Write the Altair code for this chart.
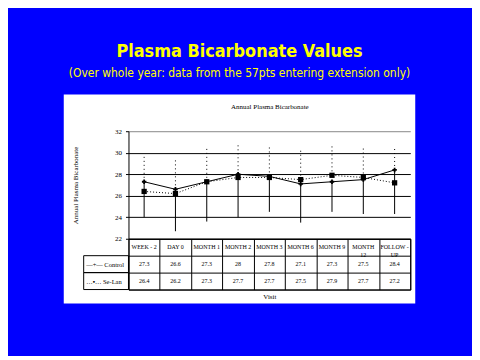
import altair as alt
import pandas as pd

cats = ["WEEK-2", "DAY0", "MONTH1", "MONTH2", "MONTH3", "MONTH6", "MONTH9", "MONTH12", "FOLLOW-UP"]
header = ["WEEK - 2", "DAY 0", "MONTH 1", "MONTH 2", "MONTH 3", "MONTH 6", "MONTH 9", "MONTH\n12", "FOLLOW -\nUP"]
control = [27.3, 26.6, 27.3, 28.0, 27.8, 27.1, 27.3, 27.5, 28.4]
selam = [26.4, 26.2, 27.3, 27.7, 27.7, 27.5, 27.9, 27.7, 27.2]
control_txt = ["27.3", "26.6", "27.3", "28", "27.8", "27.1", "27.3", "27.5", "28.4"]
selam_txt = ["26.4", "26.2", "27.3", "27.7", "27.7", "27.5", "27.9", "27.7", "27.2"]
lower = [24.0, 22.7, 23.6, 24.0, 24.5, 23.5, 24.5, 24.3, 24.3]
upper = [29.8, 29.3, 30.4, 30.9, 30.5, 30.3, 30.8, 30.4, 30.5]
rows = ["hdr", "Control", "Se-Lan"]
y_ticks = [22, 24, 26, 28, 30, 32]

SERIF = "Liberation Serif"
NARROW = "Liberation Sans Narrow, DejaVu Sans Condensed, sans-serif"
W, H, TH = 283, 108, 51

plot_df = pd.DataFrame({"cat": cats, "control": control, "selam": selam,
                        "lower": lower, "upper": upper})

xs = alt.X("cat:N", scale=alt.Scale(domain=cats, paddingInner=0, paddingOuter=0),
           axis=alt.Axis(orient="top", labels=False, ticks=False, domain=False, grid=False,
                         title="Annual Plasma Bicarbonate", titleFont=SERIF, titleFontSize=7,
                         titleFontWeight="normal", titleColor="black", titlePadding=22, zindex=1))
yax = alt.Axis(values=y_ticks, grid=True, labelOverlap=False,
               gridColor={"condition": {"test": "datum.value == 32", "value": "#888888"}, "value": "black"},
               domainColor="black", tickColor="black", tickSize=3,
               labelFont=SERIF, labelFontSize=7, labelColor="black", labelPadding=4,
               title="Annual Plasma Bicarbonate", titleFont=SERIF, titleFontSize=7,
               titleFontWeight="normal", titleColor="black", titlePadding=36, zindex=1)
ysc = alt.Scale(domain=[22, 32], nice=False, zero=False)

panel = alt.Chart(pd.DataFrame({"a": [0]})).mark_rect(color="white").encode(
    x=alt.value(-65), x2=alt.value(W + 5), y=alt.value(-37), y2=alt.value(H + TH + 14))

base = alt.Chart(plot_df).encode(x=xs)
lo_bar = base.mark_rule(color="black", strokeWidth=1).encode(
    y=alt.Y("lower:Q", scale=ysc, axis=yax), y2="control:Q")
hi_bar = base.transform_calculate(top="max(datum.control, datum.selam)").mark_rule(
    color="black", strokeWidth=1, strokeDash=[1, 3]).encode(
    y=alt.Y("top:Q", scale=ysc, axis=yax), y2="upper:Q")
sel_line = base.mark_line(color="black", strokeWidth=1, strokeDash=[1, 2]).encode(
    y=alt.Y("selam:Q", scale=ysc, axis=yax))
sel_pt = base.mark_point(shape="square", filled=True, color="black", size=28, opacity=1).encode(
    y=alt.Y("selam:Q", scale=ysc, axis=yax))
con_line = base.mark_line(color="black", strokeWidth=1).encode(
    y=alt.Y("control:Q", scale=ysc, axis=yax))
con_pt = base.mark_point(shape="cross", filled=True, color="black", size=20, opacity=1).encode(
    y=alt.Y("control:Q", scale=ysc, axis=yax))

plot = alt.layer(panel, lo_bar, hi_bar, sel_line, sel_pt, con_line, con_pt).properties(
    width=W, height=H, view=alt.ViewBackground(stroke="#888888"))

tab_rows = []
for c, h, ct, st in zip(cats, header, control_txt, selam_txt):
    tab_rows.append({"cat": c, "row": "hdr", "txt": h})
    tab_rows.append({"cat": c, "row": "Control", "txt": ct})
    tab_rows.append({"cat": c, "row": "Se-Lan", "txt": st})
tab_df = pd.DataFrame(tab_rows)

tx = alt.X("cat:N", scale=alt.Scale(domain=cats, paddingInner=0, paddingOuter=0),
           axis=alt.Axis(orient="bottom", labels=False, ticks=False, domain=False, grid=True,
                         tickBand="extent", gridColor="black", gridOpacity=1,
                         title="Visit", titleFont=SERIF, titleFontSize=7, titleFontWeight="normal",
                         titleColor="black", titlePadding=3))
ty = alt.Y("row:N", scale=alt.Scale(domain=rows, paddingInner=0, paddingOuter=0),
           axis=alt.Axis(grid=True, tickBand="extent", gridColor="black", gridOpacity=1,
                         ticks=False, domain=False, labelAlign="left", labelPadding=43,
                         labelExpr="datum.value == 'Control' ? '\u2014+\u2014 Control' : (datum.value == 'Se-Lan' ? '\u2026\u25aa\u2026 Se-Lan' : '')",
                         labelFont=SERIF, labelFontSize=6.5, labelColor="black", title=None))

cells = alt.Chart(tab_df).mark_text(font=SERIF, fontSize=6, color="black", lineBreak="\n").encode(
    x=tx, y=ty, text="txt:N")
leg_df = pd.DataFrame({"row": ["Control", "Se-Lan"]})
leg_box = alt.Chart(leg_df).mark_rect(fill="white", fillOpacity=0, stroke="black", strokeWidth=1).encode(
    y=alt.Y("row:N"), x=alt.value(-45), x2=alt.value(0))

table = alt.layer(cells, leg_box).properties(width=W, height=TH,
                                            view=alt.ViewBackground(stroke="black"))

chart = alt.vconcat(plot, table, spacing=0, bounds="flush").properties(
    title=alt.TitleParams("Plasma Bicarbonate Values",
                          subtitle="(Over whole year: data from the 57pts entering extension only)",
                          font=NARROW, fontSize=18, fontWeight="bold", color="#FFFF00",
                          subtitleFont=NARROW, subtitleFontSize=12, subtitleColor="#FFFF00",
                          subtitlePadding=7, anchor="middle", frame="bounds", offset=15, zindex=1),
    padding={"left": 55, "top": 34, "right": 56, "bottom": 51},
).configure(background="#0000FF")

chart.save("out.html", embed_options={"renderer": "svg", "actions": False})
